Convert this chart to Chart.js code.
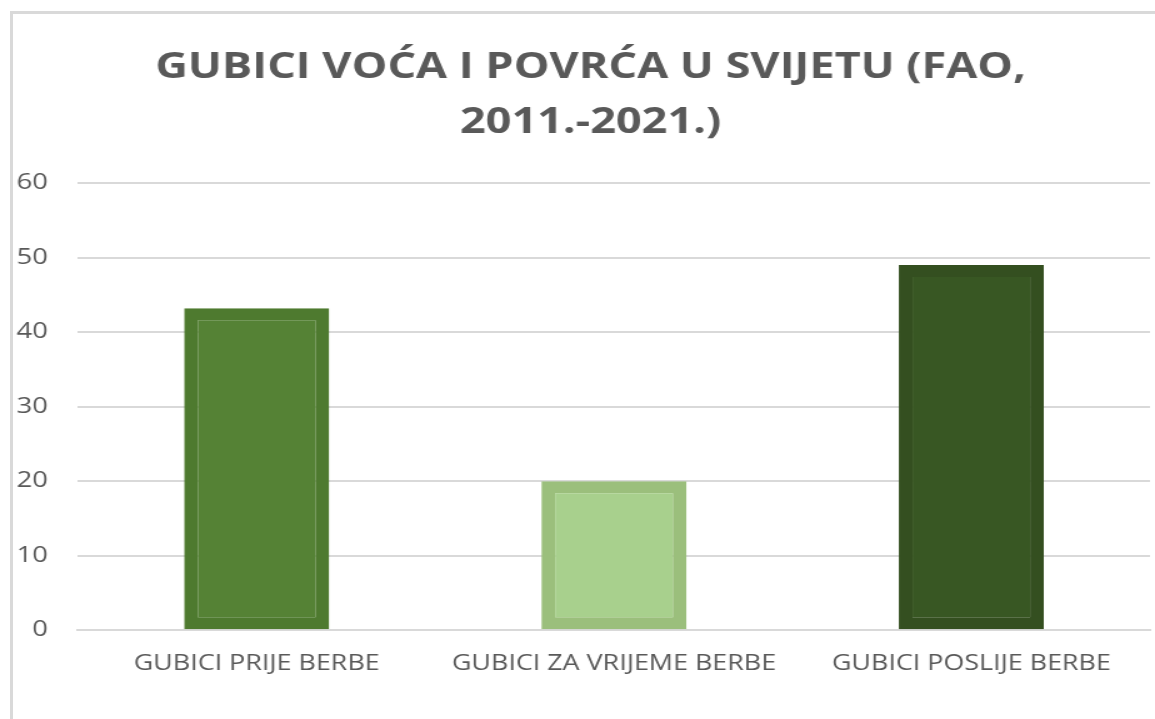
<!DOCTYPE html>
<html>
<head>
<meta charset="utf-8">
<script src="https://cdn.jsdelivr.net/npm/chart.js@4"></script>
<style>
  html, body { margin: 0; padding: 0; background: #ffffff; }
  #wrap { position: relative; width: 1155px; height: 719px; overflow: hidden; }
  #frame { position: absolute; left: 10px; top: 11px; width: 1160px; height: 720px;
           border-left: 3px solid #d9d9d9; border-top: 3px solid #d9d9d9; box-sizing: border-box; }
  canvas { position: absolute; left: 0; top: 0; transform: scaleX(1.25); transform-origin: 0 0; }
</style>
</head>
<body>
<div id="wrap">
  <div id="frame"></div>
  <canvas id="c" width="924" height="719"></canvas>
</div>
<script>
const titleLines = ['GUBICI VOĆA I POVRĆA U SVIJETU (FAO,', '2011.-2021.)'];
const categories = ['GUBICI PRIJE BERBE', 'GUBICI ZA VRIJEME BERBE', 'GUBICI POSLIJE BERBE'];
const lossValues = [43.2, 20, 49];
const yTicks = [0, 10, 20, 30, 40, 50, 60];
const fillColors = ['#558235', '#a8d08d', '#385723'];
const edgeColors = ['#4e7a2f', '#9bbf7c', '#344f20'];

const textColor = '#595959';
const gridColor = '#d9d9d9';

const shiftTitle = {
  id: 'shiftTitle',
  afterLayout(chart) {
    const t = chart.titleBlock;
    if (t) { t.left += 8.5; t.right += 8.5; }
  }
};

new Chart(document.getElementById('c'), {
  type: 'bar',
  data: {
    labels: categories,
    datasets: [{
      data: lossValues,
      backgroundColor: fillColors,
      borderColor: edgeColors,
      borderWidth: { top: 12, bottom: 12, left: 11, right: 11 },
      borderSkipped: false,
      categoryPercentage: 1,
      barPercentage: 0.406
    }]
  },
  plugins: [shiftTitle],
  options: {
    responsive: false,
    animation: false,
    devicePixelRatio: 1,
    layout: { padding: { left: 8, right: 4, top: 0, bottom: 21 } },
    plugins: {
      legend: { display: false },
      tooltip: { enabled: false },
      title: {
        display: true,
        text: titleLines,
        color: textColor,
        font: { family: 'Open Sans', size: 36, weight: 'bold', lineHeight: 1.53 },
        padding: { top: 40, bottom: 33 }
      }
    },
    scales: {
      x: {
        grid: { display: false, drawTicks: false },
        border: { display: true, color: gridColor, width: 2 },
        ticks: { color: textColor, font: { family: 'Open Sans', size: 21.5 }, padding: 21, maxRotation: 0 }
      },
      y: {
        min: 0, max: 60,
        afterBuildTicks: (s) => { s.ticks = yTicks.map(v => ({ value: v })); },
        afterFit: (s) => { s.width = 54.4; },
        grid: { color: gridColor, lineWidth: 2, drawTicks: false },
        border: { display: false },
        ticks: { color: textColor, font: { family: 'Open Sans', size: 22 }, padding: 24 }
      }
    }
  }
});
</script>
</body>
</html>
